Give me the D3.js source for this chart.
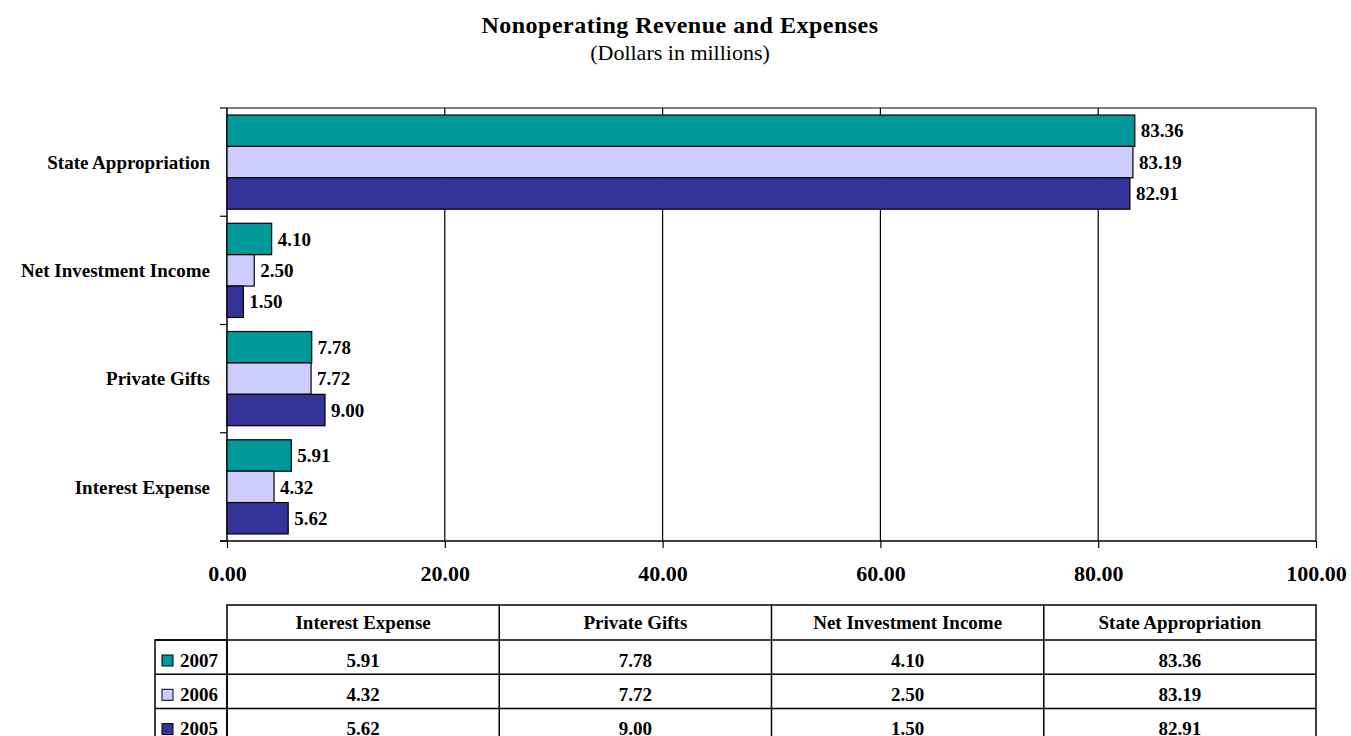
<!DOCTYPE html>
<html>
<head>
<meta charset="utf-8">
<script src="https://cdn.jsdelivr.net/npm/d3@7"></script>
<style>
  body { margin: 0; background: #fff; }
  text { font-family: 'Liberation Serif', 'Times New Roman', serif; }
</style>
</head>
<body>
<svg id="chart" width="1351" height="736"></svg>
<script>
/****************************************************************
    Data
/****************************************************************/
const categories = ['Interest Expense', 'Private Gifts', 'Net Investment Income', 'State Appropriation']
const years = ['2007', '2006', '2005']
const values2007 = [5.91, 7.78, 4.10, 83.36]
const values2006 = [4.32, 7.72, 2.50, 83.19]
const values2005 = [5.62, 9.00, 1.50, 82.91]
const xTicks = [0, 20, 40, 60, 80, 100]
const yearColors = ['#009999', '#ccccff', '#333399']

/****************************************************************
    Layout settings
/****************************************************************/
const settings = {
  left: 227, //plot area left edge
  right: 1316, //plot area right edge
  top: 108, //plot area top edge
  bottom: 541, //plot area bottom edge
  tickLen: 7,
  labelX: 210, //right edge of the category labels
  tableTop: 605,
  headerH: 35,
  rowH: 34.3,
  textOffset: 26.5, //baseline of the table text inside a row
  tableLeft: 155,
  fontSize: 19,
  tickFontSize: 22
}

const series = [values2007, values2006, values2005]
const rows = categories.map((c, i) => ({
  category: c,
  values: years.map((y, j) => ({ year: y, value: series[j][i], color: yearColors[j] }))
}))

const svg = d3.select('#chart')

/****************************************************************
    Title
/****************************************************************/
svg.append('text')
  .attr('x', 680).attr('y', 33)
  .attr('text-anchor', 'middle')
  .style('font-size', '24px').style('font-weight', 'bold')
  .style('letter-spacing', '0.5px')
  .text('Nonoperating Revenue and Expenses')

svg.append('text')
  .attr('x', 680).attr('y', 60)
  .attr('text-anchor', 'middle')
  .style('font-size', '22px')
  .text('(Dollars in millions)')

/****************************************************************
    Scales
/****************************************************************/
const x = d3.scaleLinear().domain([0, 100]).range([settings.left, settings.right])

const y = d3.scaleBand()
  .domain(categories.slice().reverse())
  .range([settings.top, settings.bottom])
  .paddingInner(0.13)
  .paddingOuter(0.065)

const yInner = d3.scaleBand().domain(years).range([0, y.bandwidth()])

/****************************************************************
    Grid, frame and axes
/****************************************************************/
svg.append('g')
  .selectAll('line')
  .data(xTicks.slice(1))
  .join('line')
  .attr('x1', d => x(d)).attr('x2', d => x(d))
  .attr('y1', settings.top).attr('y2', settings.bottom)
  .attr('stroke', '#000').attr('stroke-width', 1.2)

svg.append('line')
  .attr('x1', settings.left).attr('x2', settings.right)
  .attr('y1', settings.top).attr('y2', settings.top)
  .attr('stroke', '#000').attr('stroke-width', 1.2)

const xAxis = svg.append('g')
  .attr('transform', `translate(0,${settings.bottom})`)
  .call(d3.axisBottom(x).tickValues(xTicks).tickSize(settings.tickLen).tickSizeOuter(0).tickFormat(d3.format('.2f')))

xAxis.select('.domain').attr('d', `M${settings.left - settings.tickLen},0H${settings.right}`).attr('stroke-width', 1.5)
xAxis.selectAll('.tick line').attr('stroke-width', 1.2)
xAxis.selectAll('.tick text')
  .attr('y', 24)
  .style('font-family', "'Liberation Serif', 'Times New Roman', serif")
  .style('font-size', settings.tickFontSize + 'px')
  .style('font-weight', 'bold')
  .attr('fill', '#000')

// category boundary ticks on the y axis
const yBounds = d3.range(categories.length + 1).map(i => settings.top + i * y.step())
const yAxis = svg.append('g')
yAxis.append('line')
  .attr('x1', settings.left).attr('x2', settings.left)
  .attr('y1', settings.top).attr('y2', settings.bottom)
  .attr('stroke', '#000').attr('stroke-width', 1.5)
yAxis.selectAll('line.tick')
  .data(yBounds)
  .join('line')
  .attr('class', 'tick')
  .attr('x1', settings.left - settings.tickLen).attr('x2', settings.left)
  .attr('y1', d => d).attr('y2', d => d)
  .attr('stroke', '#000').attr('stroke-width', 1.2)

svg.append('g')
  .selectAll('text')
  .data(categories)
  .join('text')
  .attr('x', settings.labelX)
  .attr('y', d => y(d) + y.bandwidth() / 2)
  .attr('dy', '0.35em')
  .attr('text-anchor', 'end')
  .style('font-size', settings.fontSize + 'px').style('font-weight', 'bold')
  .text(d => d)

/****************************************************************
    Bars and value labels
/****************************************************************/
const groups = svg.append('g')
  .selectAll('g')
  .data(rows)
  .join('g')
  .attr('transform', d => `translate(0,${y(d.category)})`)

groups.selectAll('rect')
  .data(d => d.values)
  .join('rect')
  .attr('x', x(0))
  .attr('y', d => yInner(d.year))
  .attr('width', d => x(d.value) - x(0))
  .attr('height', yInner.bandwidth())
  .attr('fill', d => d.color)
  .attr('stroke', '#000').attr('stroke-width', 1.2)

groups.selectAll('text')
  .data(d => d.values)
  .join('text')
  .attr('x', d => x(d.value) + 6)
  .attr('y', d => yInner(d.year) + yInner.bandwidth() / 2)
  .attr('dy', '0.35em')
  .style('font-size', settings.fontSize + 'px').style('font-weight', 'bold')
  .text(d => d3.format('.2f')(d.value))

/****************************************************************
    Data table
/****************************************************************/
const col = d3.scaleBand().domain(categories).range([settings.left, settings.right])
const table = svg.append('g').attr('stroke', '#000').attr('stroke-width', 1.5)
const tableBottom = settings.tableTop + settings.headerH + settings.rowH * years.length
const rowY = i => settings.tableTop + settings.headerH + i * settings.rowH

// header cells
table.append('rect')
  .attr('x', settings.left).attr('y', settings.tableTop)
  .attr('width', settings.right - settings.left).attr('height', tableBottom - settings.tableTop)
  .attr('fill', 'none')
table.selectAll('line.col')
  .data(categories.slice(1))
  .join('line')
  .attr('class', 'col')
  .attr('x1', d => col(d)).attr('x2', d => col(d))
  .attr('y1', settings.tableTop).attr('y2', tableBottom)
table.append('rect')
  .attr('x', settings.tableLeft).attr('y', rowY(0))
  .attr('width', settings.left - settings.tableLeft).attr('height', tableBottom - rowY(0))
  .attr('fill', 'none')
table.selectAll('line.row')
  .data(d3.range(years.length))
  .join('line')
  .attr('class', 'row')
  .attr('x1', settings.tableLeft).attr('x2', settings.right)
  .attr('y1', i => rowY(i)).attr('y2', i => rowY(i))

svg.append('g')
  .selectAll('text')
  .data(categories)
  .join('text')
  .attr('x', d => col(d) + col.bandwidth() / 2)
  .attr('y', settings.tableTop + 24)
  .attr('text-anchor', 'middle')
  .style('font-size', settings.fontSize + 'px').style('font-weight', 'bold')
  .text(d => d)

const tableRows = svg.append('g')
  .selectAll('g')
  .data(years)
  .join('g')
  .attr('transform', (d, i) => `translate(0,${rowY(i)})`)

tableRows.append('rect')
  .attr('x', settings.tableLeft + 7).attr('y', 15)
  .attr('width', 11).attr('height', 11)
  .attr('fill', (d, i) => yearColors[i])
  .attr('stroke', '#000').attr('stroke-width', 1)

tableRows.append('text')
  .attr('x', settings.tableLeft + 25).attr('y', settings.textOffset)
  .style('font-size', settings.fontSize + 'px').style('font-weight', 'bold')
  .text(d => d)

tableRows.selectAll('text.val')
  .data((d, i) => categories.map((c, k) => ({ category: c, value: series[i][k] })))
  .join('text')
  .attr('class', 'val')
  .attr('x', d => col(d.category) + col.bandwidth() / 2)
  .attr('y', settings.textOffset)
  .attr('text-anchor', 'middle')
  .style('font-size', settings.fontSize + 'px').style('font-weight', 'bold')
  .text(d => d3.format('.2f')(d.value))
</script>
</body>
</html>
